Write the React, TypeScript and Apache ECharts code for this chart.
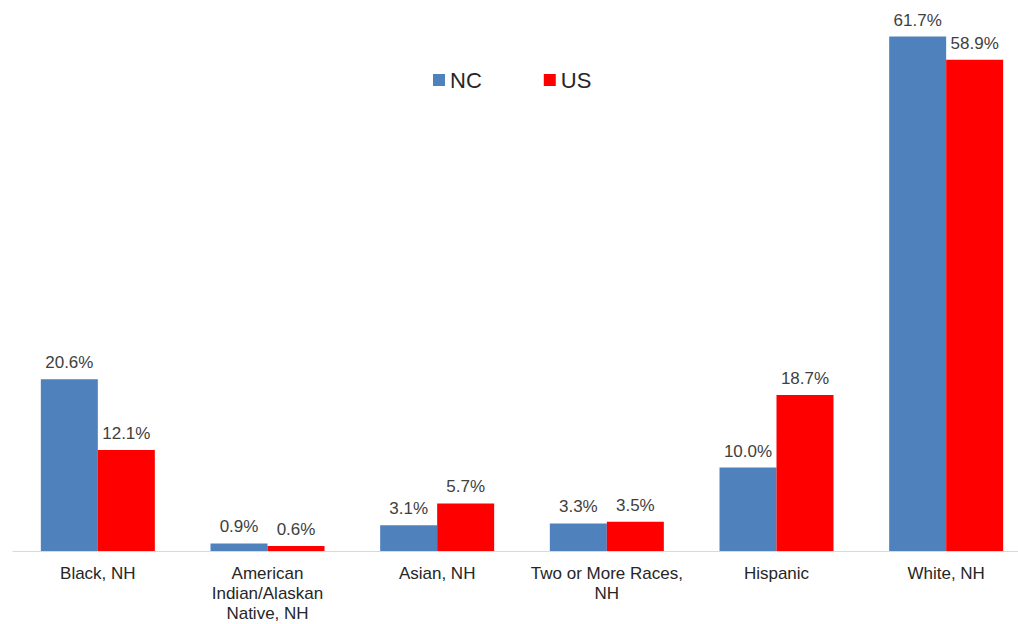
import React, { useEffect, useRef } from "react";
import * as echarts from "echarts";

const categories = [
  "Black, NH",
  "American\nIndian/Alaskan\nNative, NH",
  "Asian, NH",
  "Two or More Races,\nNH",
  "Hispanic",
  "White, NH",
];
const ncValues = [20.6, 0.9, 3.1, 3.3, 10.0, 61.7];
const usValues = [12.1, 0.6, 5.7, 3.5, 18.7, 58.9];

export default function App() {
  const ref = useRef<HTMLDivElement>(null);
  useEffect(() => {
    document.body.style.margin = "0";
    const chart = echarts.init(ref.current!, null, { renderer: "svg" });
    const font = "'Liberation Sans', Arial, sans-serif";
    const labelCfg = {
      show: true,
      position: "top" as const,
      distance: 8,
      color: "#404040",
      fontSize: 17,
      fontFamily: font,
      formatter: (p: any) => p.value.toFixed(1) + "%",
    };
    chart.setOption({
      animation: false,
      textStyle: { fontFamily: font },
      legend: {
        data: ["NC", "US"],
        top: 64,
        left: 428,
        itemWidth: 12,
        itemHeight: 12,
        itemGap: 62,
        itemTextGap: 6,
        icon: "rect",
        textStyle: { fontSize: 22, color: "#262626", fontFamily: font },
      },
      grid: { left: 13, top: 9, width: 1018, height: 542, containLabel: false },
      xAxis: {
        type: "category",
        data: categories,
        axisLine: { lineStyle: { color: "#D9D9D9", width: 1 } },
        axisTick: { show: false },
        axisLabel: {
          color: "#262626",
          fontSize: 17,
          fontFamily: font,
          lineHeight: 20,
          margin: 12,
          interval: 0,
        },
      },
      yAxis: {
        type: "value",
        min: 0,
        max: 65,
        show: false,
        splitLine: { show: false },
      },
      series: [
        {
          name: "NC",
          type: "bar",
          data: ncValues,
          barWidth: 57,
          barGap: "0%",
          itemStyle: { color: "#4F81BD" },
          label: labelCfg,
        },
        {
          name: "US",
          type: "bar",
          data: usValues,
          barWidth: 57,
          itemStyle: { color: "#FF0000" },
          label: labelCfg,
        },
      ],
    });
    return () => chart.dispose();
  }, []);
  return (
    <div style={{ width: 1018, height: 624, overflow: "hidden", position: "relative" }}>
      <div ref={ref} style={{ width: 1050, height: 624 }} />
    </div>
  );
}
